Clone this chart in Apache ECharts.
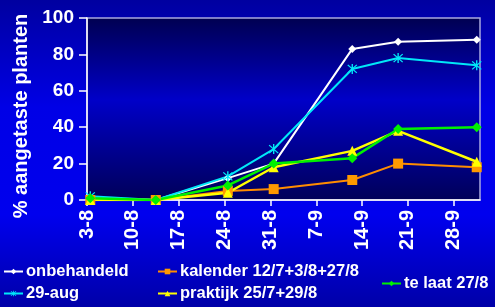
<!DOCTYPE html>
<html>
<head>
<meta charset="utf-8">
<script src="https://cdn.jsdelivr.net/npm/echarts@6/dist/echarts.min.js"></script>
<style>
html,body{margin:0;padding:0;}
#c{width:495px;height:307px;}
</style>
</head>
<body>
<div id="c"></div>
<script>
// ---- data ----
const axisStart = '3-8';
const axisEnd = '2-10';
const tickLabels = ['3-8','10-8','17-8','24-8','31-8','7-9','14-9','21-9','28-9'];
const sampleDates = ['3-8','13-8','24-8','31-8','12-9','19-9','1-10'];
const seriesNames = ['onbehandeld','29-aug','kalender 12/7+3/8+27/8','praktijk 25/7+29/8','te laat 27/8'];
const onbehandeld = [1, 0, 12, 20, 83, 87, 88];
const aug29 = [2, 0, 13, 28, 72, 78, 74];
const kalender = [0, 0, 5, 6, 11, 20, 18];
const praktijk = [0, 0, 4, 18, 27, 38, 21];
const teLaat = [1, 0, 8, 20, 23, 39, 40];
const yTicks = [0, 20, 40, 60, 80, 100];

// ---- helpers ----
function dayNum(s){ const p = s.split('-'); return Date.UTC(2000, +p[1]-1, +p[0]) / 86400000; }
const d0 = dayNum(axisStart);
const xMax = dayNum(axisEnd) - d0;
const tickVals = tickLabels.map(t => dayNum(t) - d0);
const xs = sampleDates.map(s => dayNum(s) - d0 + 0.5); // point sits in the middle of its day
const pairs = vals => vals.map((v,i) => [xs[i], v]);

const FONT = "'Liberation Sans', Arial, sans-serif";
const asterisk = 'path://M4.4,0L5.6,0L5.6,10L4.4,10Z M0.6,1.4L1.4,0.6L9.4,8.6L8.6,9.4Z M8.6,0.6L9.4,1.4L1.4,9.4L0.6,8.6Z';

const styles = {
  'onbehandeld': {color:'#FFFFFF', symbol:'diamond', size:8, width:2},
  '29-aug': {color:'#00E8F8', symbol:asterisk, size:10, width:2},
  'kalender 12/7+3/8+27/8': {color:'#FF8C00', symbol:'rect', size:10, width:2, fill:'#FF9900'},
  'praktijk 25/7+29/8': {color:'#FFFF00', symbol:'triangle', size:10, width:2.5},
  'te laat 27/8': {color:'#00F000', symbol:'diamond', size:10, width:2.5}
};
const valuesByName = {
  'onbehandeld': onbehandeld,
  '29-aug': aug29,
  'kalender 12/7+3/8+27/8': kalender,
  'praktijk 25/7+29/8': praktijk,
  'te laat 27/8': teLaat
};

const series = seriesNames.map(n => {
  const s = styles[n];
  return {
    name: n, type: 'line', data: pairs(valuesByName[n]),
    symbol: s.symbol, symbolSize: s.size,
    lineStyle: {color: s.color, width: s.width},
    itemStyle: {color: s.fill || s.color},
    animation: false
  };
});

const legendPos = {
  'onbehandeld': [3, 263],
  'kalender 12/7+3/8+27/8': [157, 263],
  'te laat 27/8': [381, 275],
  '29-aug': [3, 285],
  'praktijk 25/7+29/8': [157, 285]
};
const legends = Object.keys(legendPos).map(n => ({
  data: [n], left: legendPos[n][0], top: legendPos[n][1], padding: 0,
  itemWidth: 19, itemHeight: 7, itemGap: 4,
  textStyle: {color:'#FFFFFF', fontFamily: FONT, fontWeight:'bold', fontSize:16.5, padding:[0,0,0,-2]},
  selectedMode: false
}));

const chart = echarts.init(document.getElementById('c'), null, {renderer:'canvas'});
chart.setOption({
  animation: false,
  backgroundColor: new echarts.graphic.LinearGradient(0,0,0,1,[
    {offset:0, color:'#0000A0'},
    {offset:0.35, color:'#0000E6'},
    {offset:0.7, color:'#0000EE'},
    {offset:1, color:'#0000A8'}
  ]),
  grid: {
    left: 87, top: 18, width: 393, height: 182,
    show: true,
    backgroundColor: new echarts.graphic.LinearGradient(0,0,0,1,[
      {offset:0, color:'#000050'},
      {offset:0.45, color:'#0000C8'},
      {offset:1, color:'#000058'}
    ]),
    borderColor: '#A8A8E0', borderWidth: 1.5
  },
  legend: legends,
  xAxis: {
    type: 'value', min: 0, max: xMax,
    axisLine: {show:true, lineStyle:{color:'#FFFFFF', width:1.5}},
    axisTick: {show:true, customValues: tickVals, length:6, lineStyle:{color:'#FFFFFF', width:1.5}},
    axisLabel: {show:true, customValues: tickVals, rotate:90, margin:10,
      color:'#FFFFFF', fontFamily:FONT, fontWeight:'bold', fontSize:20,
      formatter: v => tickLabels[tickVals.indexOf(v)] || ''},
    splitLine: {show:false}
  },
  yAxis: {
    type: 'value', min: yTicks[0], max: yTicks[yTicks.length-1], interval: yTicks[1]-yTicks[0],
    name: '% aangetaste planten', nameLocation: 'middle', nameGap: 52, nameRotate: 90,
    nameTextStyle: {color:'#FFFFFF', fontFamily:FONT, fontWeight:'bold', fontSize:20, padding:[0,14,0,0]},
    axisLine: {show:true, lineStyle:{color:'#FFFFFF', width:1.5}},
    axisTick: {show:true, inside:false, length:8, lineStyle:{color:'#FFFFFF', width:1.5}},
    axisLabel: {color:'#FFFFFF', fontFamily:FONT, fontWeight:'bold', fontSize:19, margin:13},
    splitLine: {show:false}
  },
  series: series
});
</script>
</body>
</html>
